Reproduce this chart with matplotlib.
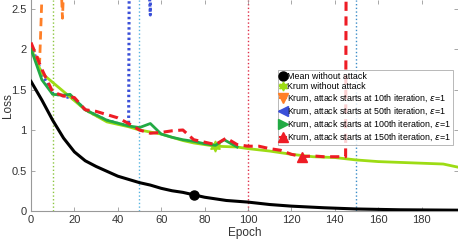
import numpy as np
import matplotlib
matplotlib.use("Agg")
from matplotlib import pyplot as plt
from matplotlib.lines import Line2D

plt.rcParams['font.family'] = ['Liberation Sans', 'DejaVu Sans']
plt.rcParams['mathtext.fontset'] = 'dejavusans'

# epochs / losses
mean_x = [0, 5, 10, 15, 20, 25, 30, 35, 40, 45, 50, 55, 60, 65, 70, 75, 80, 85, 90, 95,
          100, 110, 120, 135, 150, 170, 197]
mean_y = [1.6, 1.37, 1.12, 0.9, 0.73, 0.62, 0.55, 0.49, 0.43, 0.39, 0.35, 0.32, 0.28, 0.25,
          0.23, 0.2, 0.17, 0.15, 0.13, 0.12, 0.11, 0.08, 0.06, 0.04, 0.025, 0.015, 0.01]

krum_x = [0, 5, 25, 35, 45, 50, 60, 70, 75, 85, 95, 100, 110, 120, 130, 140, 150, 160,
          170, 180, 190, 197]
krum_y = [2.0, 1.7, 1.25, 1.1, 1.04, 1.0, 0.95, 0.87, 0.84, 0.8, 0.79, 0.77, 0.74, 0.7,
          0.67, 0.66, 0.63, 0.61, 0.6, 0.59, 0.58, 0.54]

att10_x = [0, 4, 6, 13, 14.5, 16]
att10_y = [2.05, 1.85, 3.4, 3.4, 2.38, 3.4]

att50_x = [0, 5, 10, 15, 20, 25, 30, 35, 40, 45, 46, 55, 56]
att50_y = [2.05, 1.7, 1.45, 1.42, 1.38, 1.25, 1.18, 1.12, 1.08, 1.05, 8.0, 2.42, 8.0]

att100_x = [0, 5, 10, 15, 18, 25, 35, 45, 50, 55, 60, 65, 70, 75, 80, 85, 89, 95]
att100_y = [2.0, 1.62, 1.44, 1.43, 1.44, 1.25, 1.12, 1.05, 1.03, 1.08, 0.95, 0.91, 0.88,
            0.86, 0.83, 0.81, 0.88, 0.79]

att150_x = [0, 5, 10, 15, 20, 25, 30, 40, 45, 50, 55, 60, 65, 70, 75, 80, 85, 90, 95,
            100, 105, 110, 115, 120, 125, 130, 135, 140, 145, 146]
att150_y = [2.08, 1.75, 1.47, 1.42, 1.4, 1.25, 1.23, 1.15, 1.08, 1.0, 0.96, 0.97, 0.99,
            1.0, 0.88, 0.85, 0.82, 0.9, 0.82, 0.8, 0.8, 0.77, 0.75, 0.7, 0.67, 0.68, 0.67,
            0.67, 0.67, 10.0]

vlines_x = [10, 50, 100, 150]
vlines_c = ['#8cc63f', '#55b4e0', '#e0304a', '#3a8cc8']

labels = ['Mean without attack',
          'Krum without attack',
          r'Krum, attack starts at 10th iteration, $\epsilon$=1',
          r'Krum, attack starts at 50th iteration, $\epsilon$=1',
          r'Krum, attack starts at 100th iteration, $\epsilon$=1',
          r'Krum, attack starts at 150th iteration, $\epsilon$=1']

fig = plt.figure(figsize=(4.58, 2.40), dpi=100)
ax = fig.add_axes([31 / 458, 29 / 240, 427 / 458, 211 / 240])

for xv, c in zip(vlines_x, vlines_c):
    ax.axvline(xv, color=c, ls=':', lw=1.0, zorder=1)

star6 = (6, 1, 0)
h1, = ax.plot(mean_x, mean_y, color='black', lw=2.2, marker='o', ms=6.5,
              markevery=[mean_x.index(75)], zorder=5)
h2, = ax.plot(krum_x, krum_y, color='#9ddc14', lw=2.0, marker=star6, ms=8,
              markevery=[krum_x.index(85)], zorder=3)
h3, = ax.plot(att10_x, att10_y, color='#ff7f27', lw=2.0, ls=(0, (3, 1.8)), marker='v',
              ms=7, markevery=[5], zorder=2)
h4, = ax.plot(att50_x, att50_y, color='#3a4fd8', lw=2.2, ls=(0, (0.8, 0.9)), marker='<',
              ms=7, markevery=[12], zorder=2)
h5, = ax.plot(att100_x, att100_y, color='#22aa44', lw=2.0, marker='>', ms=7,
              markevery=[], zorder=4)
h6, = ax.plot(att150_x, att150_y, color='#ee1c25', lw=2.2, ls=(0, (3, 1.8)), marker='^',
              ms=7, markevery=[att150_x.index(125)], zorder=4)

ax.set_xlim(0, 196.8)
ax.set_ylim(0, 2.605)
ax.set_xticks(np.arange(0, 181, 20))
ax.set_yticks([0, 0.5, 1, 1.5, 2, 2.5])
ax.set_yticklabels(['0', '0.5', '1', '1.5', '2', '2.5'])
ax.tick_params(direction='in', length=3, width=0.6, colors='#999999', labelcolor='#333333',
               labelsize=8, top=True, right=True, pad=3)
for s in ['top', 'right']:
    ax.spines[s].set_visible(False)
for s in ['left', 'bottom']:
    ax.spines[s].set_color('#999999')
    ax.spines[s].set_linewidth(0.8)
ax.set_xlabel('Epoch', fontsize=8.5, color='#333333', labelpad=1)
ax.set_ylabel('Loss', fontsize=8.5, color='#333333')
ax.yaxis.set_label_coords(-0.04, 0.5)

handles = []
for h in [h1, h2, h3, h4, h5, h6]:
    handles.append(Line2D([], [], color=h.get_color(), lw=1.5, marker=h.get_marker(),
                          ms=6.5, ls='-'))
leg = ax.legend(handles, labels, loc='upper left', bbox_to_anchor=(0.578, 0.668),
                fontsize=6.4, handlelength=0.7, handletextpad=0.15, labelspacing=0.18,
                borderpad=0.2, borderaxespad=0, frameon=True, fancybox=False)
leg.get_frame().set_edgecolor('#999999')
leg.get_frame().set_linewidth(0.6)
leg.set_zorder(10)

fig.savefig('out.png', dpi=100)
